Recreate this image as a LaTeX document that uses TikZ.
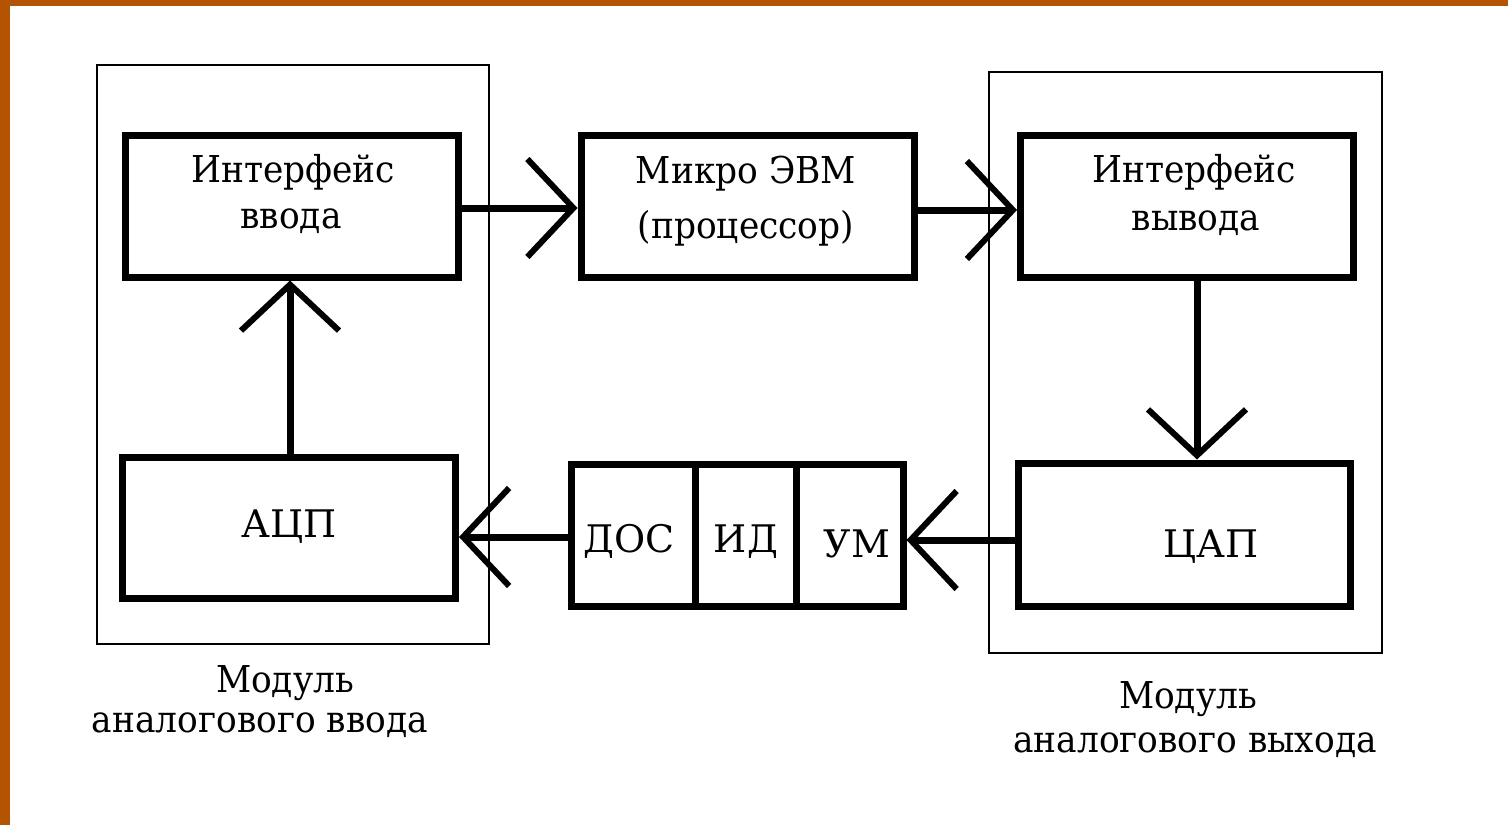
\documentclass[tikz,border=0pt]{standalone}
\usepackage{fontspec}
\setmainfont{DejaVu Serif}
\newfontfamily\narrowserif[FakeStretch=0.93]{DejaVu Serif}
\usetikzlibrary{arrows.meta}
\definecolor{frameor}{RGB}{180,84,0}
\tikzset{
  thickbox/.style={draw=black, line width=7pt, minimum width=333pt, minimum height=142pt, inner sep=0pt},
  thinbox/.style={draw=black, line width=2.2pt, inner sep=0pt},
  cellbox/.style={draw=black, line width=7pt, minimum height=142pt, inner sep=0pt},
  txt/.style={anchor=base, font=\narrowserif\fontsize{37}{40}\selectfont, inner sep=0pt},
  bigtxt/.style={anchor=base, font=\fontsize{38}{40}\selectfont, inner sep=0pt},
  lbl/.style={anchor=base, font=\narrowserif\fontsize{37}{40}\selectfont, inner sep=0pt},
  arr/.style={line width=7pt, -{Straight Barb[length=46pt, width=98pt, line width=6pt]}},
}
\begin{document}
\begin{tikzpicture}[x=1pt, y=-1pt]
\useasboundingbox (0,0) rectangle (1508,825);
\fill[white] (0,0) rectangle (1508,825);
\fill[frameor] (0,0) rectangle (10,825);
\fill[frameor] (0,0) rectangle (1508,6);
% module frames
\node[thinbox, minimum width=392pt, minimum height=579pt] (modin) at (293,354.5) {};
\node[thinbox, minimum width=393pt, minimum height=581pt] (modout) at (1185.5,362.5) {};
% blocks
\node[thickbox] (ifin) at (291.5,206) {};
\node[thickbox] (mcu) at (747.5,206) {};
\node[thickbox] (ifout) at (1187,206) {};
\node[thickbox, minimum height=141pt] (adc) at (289,527.5) {};
\node[thickbox, minimum width=332pt, minimum height=143pt] (dac) at (1184,534.5) {};
\node[cellbox, minimum width=124pt] (dos) at (633,535) {};
\node[cellbox, minimum width=101pt] (id) at (745.5,535) {};
\node[cellbox, minimum width=107pt] (um) at (849.5,535) {};
% texts
\node[txt] (tifina) at (293,182) {Интерфейс};
\node[txt] (tifinb) at (291,228) {ввода};
\node[txt] (tmcua) at (746,183) {Микро ЭВМ};
\node[txt] (tmcub) at (746,238) {(процессор)};
\node[txt] (tifouta) at (1194,182) {Интерфейс};
\node[txt] (tifoutb) at (1196,230) {вывода};
\node[bigtxt] (tadc) at (289,537) {АЦП};
\node[bigtxt] (tdac) at (1211,557) {ЦАП};
\node[bigtxt] (tdos) at (629,552) {ДОС};
\node[bigtxt] (tid) at (746,552) {ИД};
\node[bigtxt] (tum) at (857,557) {УМ};
% labels
\node[lbl] (lblina) at (285,692) {Модуль};
\node[lbl] (lblinb) at (260,732) {аналогового ввода};
\node[lbl] (lblouta) at (1188,708) {Модуль};
\node[lbl] (lbloutb) at (1195,752) {аналогового выхода};
% connectors
\draw[arr] (ifin.east |- 0,208) -- (mcu.west |- 0,208);
\draw[arr] (mcu.east |- 0,210) -- (ifout.west |- 0,210);
\draw[arr] (ifout.south -| 1197,0) -- (dac.north -| 1197,0);
\draw[arr] (dac.west |- 0,540) -- (um.east |- 0,540);
\draw[arr] (dos.west |- 0,537) -- (adc.east |- 0,537);
\draw[arr] (adc.north -| 290,0) -- (ifin.south -| 290,0);
\end{tikzpicture}
\end{document}
